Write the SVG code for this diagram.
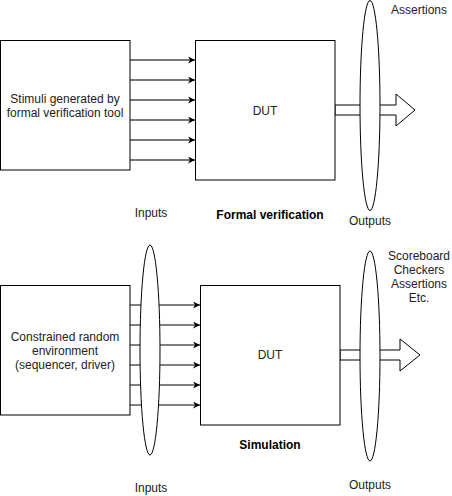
<svg xmlns="http://www.w3.org/2000/svg" width="452" height="496" viewBox="0 0 452 496">
<defs>
<style>
.box{fill:#fff;stroke:#000;stroke-width:1}
.ell{fill:#fff;stroke:#000;stroke-width:1}
.t{font-family:"Liberation Sans",Arial,sans-serif;font-size:12px;fill:#222;text-anchor:middle}
.b{font-weight:bold;fill:#000}
.in1{stroke:#777;stroke-width:2;fill:none}
.in2{stroke:#000;stroke-width:1;fill:none}
.big{fill:#fff;stroke:#000;stroke-width:1}
</style>
<marker id="ah" viewBox="0 0 10 10" refX="10" refY="5" markerWidth="7" markerHeight="7" markerUnits="userSpaceOnUse" orient="auto">
<path d="M0,0 L10,5 L0,10 L3,5 Z" fill="#000"/>
</marker>
</defs>
<rect width="452" height="496" fill="#fff"/>

<g id="connectors">
<g id="top-inputs">
<line class="in1" x1="130" y1="60" x2="195" y2="60" marker-end="url(#ah)"/>
<line class="in1" x1="130" y1="80" x2="195" y2="80" marker-end="url(#ah)"/>
<line class="in1" x1="130" y1="100" x2="195" y2="100" marker-end="url(#ah)"/>
<line class="in1" x1="130" y1="120" x2="195" y2="120" marker-end="url(#ah)"/>
<line class="in1" x1="130" y1="140" x2="195" y2="140" marker-end="url(#ah)"/>
<line class="in1" x1="130" y1="160" x2="195" y2="160" marker-end="url(#ah)"/>
</g>
<g id="bottom-inputs">
<line class="in2" x1="130" y1="305" x2="200" y2="305" marker-end="url(#ah)"/>
<line class="in2" x1="130" y1="325" x2="200" y2="325" marker-end="url(#ah)"/>
<line class="in2" x1="130" y1="345" x2="200" y2="345" marker-end="url(#ah)"/>
<line class="in2" x1="130" y1="365" x2="200" y2="365" marker-end="url(#ah)"/>
<line class="in2" x1="130" y1="385" x2="200" y2="385" marker-end="url(#ah)"/>
<line class="in2" x1="130" y1="405" x2="200" y2="405" marker-end="url(#ah)"/>
</g>
<path id="top-output" class="big" d="M335,105 L396,105 L396,94 L415,110 L396,126 L396,115 L335,115 Z"/>
<path id="bottom-output" class="big" d="M340,350 L400,350 L400,339 L420,355 L400,371 L400,360 L340,360 Z"/>
</g>

<g id="stimuli">
<rect class="box" x="0.5" y="40.5" width="129.5" height="129.5"/>
<text class="t" x="65" y="103">Stimuli generated by</text>
<text class="t" x="65" y="117">formal verification tool</text>
</g>
<g id="dut-formal">
<rect class="box" x="195.5" y="40.5" width="139.5" height="139.5"/>
<text class="t" x="265" y="115">DUT</text>
</g>
<g id="outputs-ellipse-top">
<ellipse class="ell" cx="370" cy="105.5" rx="10" ry="105"/>
</g>
<g id="constrained">
<rect class="box" x="0.5" y="285.5" width="129.5" height="129.5"/>
<text class="t" x="65" y="341">Constrained random</text>
<text class="t" x="65" y="355">environment</text>
<text class="t" x="65" y="369">(sequencer, driver)</text>
</g>
<g id="dut-sim">
<rect class="box" x="200.5" y="285.5" width="139.5" height="139.5"/>
<text class="t" x="270" y="359">DUT</text>
</g>
<g id="inputs-ellipse-bottom">
<ellipse class="ell" cx="150" cy="350" rx="10" ry="105"/>
</g>
<g id="outputs-ellipse-bottom">
<ellipse class="ell" cx="370" cy="356" rx="10" ry="105"/>
</g>

<g id="labels">
<text class="t" x="151" y="217">Inputs</text>
<text class="t b" x="270" y="219">Formal verification</text>
<text class="t" x="370" y="225">Outputs</text>
<text class="t" x="419" y="14">Assertions</text>
<text class="t" x="419" y="260">Scoreboard</text>
<text class="t" x="419" y="274">Checkers</text>
<text class="t" x="419" y="288">Assertions</text>
<text class="t" x="419" y="302">Etc.</text>
<text class="t b" x="270" y="449">Simulation</text>
<text class="t" x="151" y="492">Inputs</text>
<text class="t" x="370" y="489">Outputs</text>
</g>
</svg>
